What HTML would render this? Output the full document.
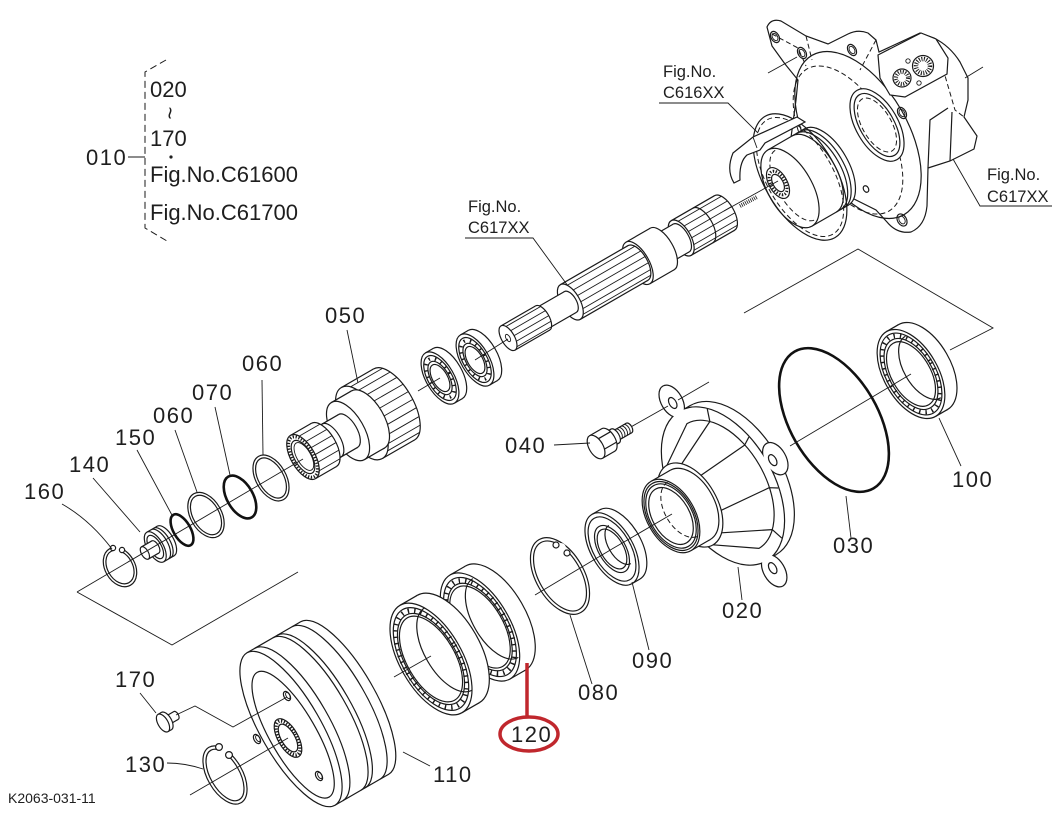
<!DOCTYPE html>
<html><head><meta charset="utf-8"><style>
html,body{margin:0;padding:0;background:#fff;}
svg{display:block}
.s{fill:#fff;stroke:#1a1a1a;stroke-width:1.2}
.n{fill:none;stroke:#1a1a1a;stroke-width:1.2}
.t{fill:none;stroke:#1a1a1a;stroke-width:0.9}
.o{fill:none;stroke:#111;stroke-width:2.6}
.w{fill:#fff;stroke:none}
.d{fill:none;stroke:#1a1a1a;stroke-width:1;stroke-dasharray:5 3}
.r{fill:none;stroke:#1a1a1a;stroke-dasharray:1.4 5}
.g{fill:none;stroke:#1a1a1a;stroke-dasharray:1.3 1.6}
text{font-family:"Liberation Sans",Arial,sans-serif;fill:#1e1e1e}
.L{font-size:22px;letter-spacing:1.5px}
.F{font-size:16.5px}
.G{font-size:22px}
</style></head><body>
<svg width="1062" height="824" viewBox="0 0 1062 824" xmlns="http://www.w3.org/2000/svg">

<!-- legend -->
<path class="n" d="M166,60 L145,72 L145,228 L167,241" style="stroke-dasharray:7 4;stroke-width:1"/>
<line class="t" x1="128" y1="157" x2="145" y2="157"/>
<text class="L" x="86" y="165">010</text>
<text class="G" x="150" y="97">020</text>
<text class="G" x="0" y="0" text-anchor="middle" dominant-baseline="central" transform="translate(170,113) rotate(90)">~</text>
<text class="G" x="150" y="146">170</text>
<circle cx="171" cy="157" r="1.6" fill="#1e1e1e"/>
<text class="G" x="150" y="182">Fig.No.C61600</text>
<text class="G" x="150" y="220">Fig.No.C61700</text>

<!-- brackets -->
<path class="t" d="M77,592 L172,645 L298,572"/>
<path class="t" d="M744,313 L858,249 L993,328 L950,350"/>

<!-- ===== top-right housing C617XX ===== -->
<path class="s" d="M767,27 Q771,18 781,21 L806,36 L828,44 L848,34 Q858,29 868,33 L876,40 L879,52 L920,33 L934,38 Q950,46 960,62 L968,78 L968,100 L964,117 L977,136 L974,149 L950,161 L928,168 L927,206 Q925,226 911,232 Q897,234 887,222 L876,210 L850,197 L800,205 L788,160 L796,100 L798,80 L785,64 L772,46 Z"/>
<path class="d" d="M772,34 L798,48 L806,66 M806,36 L812,60 M934,38 L955,110 L964,117 M876,40 L860,70"/>
<ellipse class="n" transform="translate(858,135) rotate(-30)" rx="50" ry="92"/>
<ellipse class="d" transform="translate(848,140) rotate(-30)" rx="42" ry="82"/>
<path class="n" d="M928,168 L930,120 L948,108 M950,161 L952,112"/>
<path class="s" d="M878,55 L921,33 L936,39 L948,58 L947,74 L905,97 L890,95 L880,78 Z"/>
<circle class="n" cx="902" cy="78" r="9"/>
<circle cx="902" cy="78" r="6" fill="none" stroke="#1a1a1a" stroke-width="4" stroke-dasharray="1 1.4"/>
<circle class="n" cx="923" cy="66" r="10.5"/>
<circle cx="923" cy="66" r="7" fill="none" stroke="#1a1a1a" stroke-width="4.5" stroke-dasharray="1 1.4"/>
<circle class="t" cx="908" cy="61" r="2.2"/>
<circle class="t" cx="919" cy="83" r="2.2"/>
<g transform="translate(877,125) rotate(-30)">
 <ellipse class="s" rx="21" ry="40"/>
 <ellipse class="n" rx="17" ry="35"/>
 <ellipse class="d" rx="14.5" ry="30"/>
</g>
<g class="n">
 <g transform="translate(775,37) rotate(-30)"><ellipse rx="4" ry="6"/><ellipse class="t" rx="2.5" ry="4"/></g>
 <g transform="translate(802,53) rotate(-30)"><ellipse rx="4" ry="6"/><ellipse class="t" rx="2.5" ry="4"/></g>
 <g transform="translate(852,50) rotate(-30)"><ellipse rx="4" ry="6"/><ellipse class="t" rx="2.5" ry="4"/></g>
 <g transform="translate(902,113) rotate(-30)"><ellipse rx="4" ry="6"/><ellipse class="t" rx="2.5" ry="4"/></g>
 <g transform="translate(902,220) rotate(-30)"><ellipse rx="4.5" ry="6.5"/><ellipse class="t" rx="2.8" ry="4.2"/></g>
 <g transform="translate(866,189) rotate(-30)"><ellipse rx="2.5" ry="3.5"/></g>
</g>
<path class="t" d="M965,78 L983,67 M768,73 L797,57"/>

<!-- piston C616XX -->
<g transform="translate(790,188) rotate(-30)">
 <ellipse class="s" cx="42" rx="22" ry="44"/>
 <rect class="w" x="0" y="-44" width="42" height="88"/>
 <path class="n" d="M0,-44H42M0,44H42"/>
 <path class="n" d="M28,-44A22,44 0 0 1 28,44M33,-44A22,44 0 0 1 33,44M37,-44A22,44 0 0 1 37,44"/>
 <ellipse class="s" rx="22" ry="44"/>
 <path class="d" d="M6,-40A18,40 0 0 0 6,40"/>
</g>
<g transform="translate(800,177) rotate(-30)">
 <ellipse class="n" rx="36" ry="70"/>
 <ellipse class="d" rx="33" ry="66"/>
</g>
<g transform="translate(778,183) rotate(-30)">
 <ellipse class="s" rx="9" ry="17"/>
 <ellipse class="g" stroke-width="3" rx="7" ry="13"/>
 <ellipse class="n" rx="5" ry="9.5"/>
</g>
<path class="s" d="M733,153 L753,137 L797,117 L805,122 L765,143 L760,150 L747,155 Q739,162 740,180 L734,183 Q726,170 733,153 Z"/>
<path class="t" d="M753,137 L757,148"/>

<!-- Fig labels -->
<text class="F" x="663" y="77">Fig.No.</text>
<text class="F" x="663" y="98">C616XX</text>
<path class="t" d="M659,103 H728 L758,133"/>
<text class="F" x="987" y="180">Fig.No.</text>
<text class="F" x="987" y="202">C617XX</text>
<path class="t" d="M1052,206 H980 L953,159"/>

<!-- ===== upper row ===== -->
<!-- shaft C617XX -->
<g transform="translate(508,338) rotate(-30)">
 <ellipse class="s" cx="250" rx="9.5" ry="20"/>
 <rect class="w" x="200" y="-20" width="50" height="40"/>
 <path class="n" d="M200,-20H250M200,20H250"/>
 <path class="t" d="M205.7,-16H255.7M208.5,-9H258.5M209.5,-2H259.5M209.2,5H259.2M207.6,12H257.6M205,17H255"/>
 <path class="n" d="M225,-20A9.5,20 0 0 1 225,20"/>
 <ellipse class="s" cx="200" rx="9.5" ry="20"/>
 <ellipse class="s" cx="200" rx="7.5" ry="16"/>
 <rect class="w" x="178" y="-16" width="22" height="32"/>
 <path class="n" d="M178,-16H200M178,16H200"/>
 <ellipse class="s" cx="178" rx="11" ry="24"/>
 <rect class="w" x="150" y="-24" width="28" height="48"/>
 <path class="n" d="M150,-24H178M150,24H178"/>
 <ellipse class="s" cx="150" rx="11" ry="24"/>
 <ellipse class="s" cx="150" rx="9.5" ry="20"/>
 <rect class="w" x="72" y="-20" width="78" height="40"/>
 <path class="n" d="M72,-20H150M72,20H150"/>
 <path class="t" d="M77.7,-16H155.7M80.5,-9H158.5M81.5,-2H159.5M81.2,5H159.2M79.6,12H157.6M77,17H155"/>
 <ellipse class="s" cx="72" rx="9.5" ry="20"/>
 <ellipse class="s" cx="72" rx="6" ry="12"/>
 <rect class="w" x="40" y="-12" width="32" height="24"/>
 <path class="n" d="M40,-12H72M40,12H72"/>
 <ellipse class="s" cx="40" rx="6.5" ry="14"/>
 <rect class="w" x="0" y="-14" width="40" height="28"/>
 <path class="n" d="M0,-14H40M0,14H40"/>
 <path class="t" d="M4,-11H44M6.1,-5H46.1M6.5,1H46.5M5.6,7H45.6M3.3,12H43.3"/>
 <ellipse class="s" rx="6.5" ry="14"/>
 <ellipse class="t" rx="2" ry="4"/>
</g>
<text class="F" x="468" y="212">Fig.No.</text>
<text class="F" x="468" y="233">C617XX</text>
<path class="t" d="M465,238 H533 L568,286"/>
<path class="t" d="M724,211 L778,181"/>
<path d="M740,206 L757,197" stroke="#1a1a1a" stroke-width="4" stroke-dasharray="0.8 1.2" fill="none"/>

<!-- bearings upper -->
<g transform="translate(475,360) rotate(-30)">
 <ellipse class="s" cx="9" rx="14" ry="29"/>
 <rect class="w" x="0" y="-29" width="9" height="58"/>
 <path class="n" d="M0,-29H9M0,29H9"/>
 <ellipse class="s" rx="14" ry="29"/>
 <ellipse class="n" rx="12" ry="25"/>
 <ellipse class="r" stroke-width="3.5" rx="10.5" ry="21.5"/>
 <ellipse class="n" rx="9" ry="18.5"/>
 <ellipse class="n" rx="7.5" ry="15"/>
</g>
<path class="t" d="M475,360 L508,339"/>
<g transform="translate(440,378) rotate(-30)">
 <ellipse class="s" cx="9" rx="14" ry="29"/>
 <rect class="w" x="0" y="-29" width="9" height="58"/>
 <path class="n" d="M0,-29H9M0,29H9"/>
 <ellipse class="s" rx="14" ry="29"/>
 <ellipse class="n" rx="12" ry="25"/>
 <ellipse class="r" stroke-width="3.5" rx="10.5" ry="21.5"/>
 <ellipse class="n" rx="9" ry="18.5"/>
 <ellipse class="n" rx="7.5" ry="15"/>
</g>
<path class="t" d="M418,391 L440,378"/>

<!-- gear 050 -->
<g transform="translate(303,457) rotate(-30)">
 <ellipse class="s" cx="105" rx="19" ry="41"/>
 <rect class="w" x="68" y="-41" width="37" height="82"/>
 <path class="n" d="M68,-41H105M68,41H105"/>
 <ellipse class="s" cx="68" rx="19" ry="41"/>
 <path class="t" d="M76.2,-37H113.2M81,-30H118M84,-22H121M86,-13H123M86.9,-4H123.9M86.9,5H123.9M85.9,14H122.9M83.7,23H120.7M80.4,31H117.4M76.2,37H113.2"/>
 <ellipse class="s" cx="75" rx="16" ry="33"/>
 <rect class="w" x="52" y="-33" width="23" height="66"/>
 <path class="n" d="M52,-33H75M52,33H75"/>
 <ellipse class="s" cx="52" rx="16" ry="33"/>
 <ellipse class="s" cx="52" rx="9" ry="19"/>
 <rect class="w" x="24" y="-19" width="28" height="38"/>
 <path class="n" d="M24,-19H52M24,19H52"/>
 <path class="n" d="M33,-19A9,19 0 0 1 33,19"/>
 <ellipse class="s" cx="24" rx="12" ry="25"/>
 <rect class="w" x="0" y="-25" width="24" height="50"/>
 <path class="n" d="M0,-25H24M0,25H24"/>
 <ellipse class="s" rx="12" ry="25"/>
 <path class="t" d="M7.2,-20H31.2M10.5,-12H34.5M11.8,-4H35.8M11.8,4H35.8M10.5,12H34.5M7.2,20H31.2"/>
 <ellipse class="g" stroke-width="3" rx="10.5" ry="22.5"/>
 <ellipse class="n" rx="8.5" ry="18.5"/>
 <ellipse class="t" cx="1" rx="7" ry="15.5"/>
</g>

<!-- rings -->
<g transform="translate(271,478) rotate(-30)"><ellipse class="n" rx="15" ry="25"/><ellipse class="n" rx="12.5" ry="22"/></g>
<ellipse class="o" transform="translate(240,497) rotate(-30)" rx="13" ry="23.5"/>
<g transform="translate(206,515) rotate(-30)"><ellipse class="n" rx="15.5" ry="24.5"/><ellipse class="n" rx="13" ry="21.5"/></g>
<ellipse class="o" transform="translate(182,530) rotate(-30)" rx="8.5" ry="17.5"/>

<!-- 140 -->
<g transform="translate(157,546) rotate(-30)">
 <ellipse class="s" cx="10" rx="8" ry="17"/>
 <rect class="w" x="-2" y="-17" width="12" height="34"/>
 <path class="n" d="M-2,-17H10M-2,17H10M3,-17A8,17 0 0 1 3,17M6,-17A8,17 0 0 1 6,17"/>
 <ellipse class="s" cx="-2" rx="8" ry="17"/>
 <ellipse class="n" cx="-2" rx="6" ry="13"/>
 <ellipse class="s" cx="-2" rx="3.5" ry="7"/>
 <rect class="w" x="-14" y="-7" width="12" height="14"/>
 <path class="n" d="M-14,-7H-2M-14,7H-2"/>
 <ellipse class="s" cx="-14" rx="3.5" ry="7"/>
</g>

<!-- 160 circlip -->
<g transform="translate(120,567) rotate(-30)"><ellipse class="n" rx="15" ry="21"/><ellipse class="n" rx="12.5" ry="18"/></g>
<circle class="w" cx="117" cy="548" r="4"/>
<circle class="s" cx="113" cy="548" r="2.6"/>
<circle class="s" cx="122" cy="550" r="2.6"/>

<path class="t" d="M77,592 L303,459"/>

<!-- upper labels -->
<text class="L" x="325" y="323">050</text>
<path class="t" d="M347,330 L358,383"/>
<text class="L" x="242" y="371">060</text>
<path class="t" d="M262,380 L263,455"/>
<text class="L" x="192" y="400">070</text>
<path class="t" d="M215,407 L230,475"/>
<text class="L" x="153" y="423">060</text>
<path class="t" d="M175,430 L197,492"/>
<text class="L" x="115" y="445">150</text>
<path class="t" d="M137,450 L173,517"/>
<text class="L" x="69" y="472">140</text>
<path class="t" d="M93,478 L140,532"/>
<text class="L" x="24" y="499">160</text>
<path class="t" d="M62,504 Q90,520 112,549"/>

<!-- ===== lower row ===== -->
<!-- bearing 100 -->
<g transform="translate(911,374) rotate(-30)">
 <ellipse class="s" cx="14" rx="27" ry="49"/>
 <rect class="w" x="0" y="-49" width="14" height="98"/>
 <path class="n" d="M0,-49H14M0,49H14"/>
 <ellipse class="s" rx="27" ry="49"/>
 <ellipse class="n" rx="24.5" ry="45"/>
 <ellipse class="r" stroke-width="4.5" rx="23" ry="42"/>
 <ellipse class="n" rx="21.5" ry="39"/>
 <ellipse class="n" rx="19.5" ry="35.5"/>
 <path class="n" d="M14,-35.5A19.5,35.5 0 0 0 14,35.5"/>
</g>
<!-- O-ring 030 -->
<ellipse class="o" transform="translate(834,420) rotate(-30)" rx="44" ry="79"/>

<!-- housing 020 -->
<g transform="translate(671,516) rotate(-30)">
 <ellipse class="s" cx="72" rx="50" ry="86"/>
 <rect class="w" x="60" y="-86" width="12" height="172"/>
 <path class="n" d="M60,-86H72M60,86H72"/>
 <g fill="none" stroke="#1a1a1a" stroke-width="2.4">
  <ellipse cx="58" cy="-99" rx="10" ry="17"/>
  <ellipse cx="119" cy="2.5" rx="10" ry="17"/>
  <ellipse cx="62" cy="99" rx="10" ry="17"/>
  <ellipse cx="60" rx="50" ry="86"/>
 </g>
 <g fill="#fff">
  <ellipse cx="58" cy="-99" rx="10" ry="17"/>
  <ellipse cx="119" cy="2.5" rx="10" ry="17"/>
  <ellipse cx="62" cy="99" rx="10" ry="17"/>
  <ellipse cx="60" rx="50" ry="86"/>
 </g>
 <ellipse class="n" cx="58" cy="-97" rx="3.5" ry="6"/>
 <ellipse class="n" cx="116" cy="2.5" rx="3.5" ry="6"/>
 <ellipse class="n" cx="62" cy="96" rx="3.5" ry="6"/>
 <path class="s" d="M22,-46 L60,-72 A42,72 0 0 1 60,72 L22,46 Z"/>
 <path class="n" d="M80.9,-62.4L84.9,-74.5M99.2,-24.6L106.9,-29.4M99.2,24.6L106.9,29.4M80.9,62.4L84.9,74.5M35.3,-39.8L80.9,-62.4M35.3,39.8L80.9,62.4M44,-20L99.2,-24.6M44,20L99.2,24.6"/>
 <ellipse class="s" cx="22" rx="27" ry="46"/>
 <ellipse class="s" cx="22" rx="24" ry="40"/>
 <rect class="w" x="0" y="-40" width="22" height="80"/>
 <path class="n" d="M0,-40H22M0,40H22"/>
 <ellipse class="s" rx="24" ry="40"/>
 <ellipse class="n" rx="22.5" ry="37.5"/>
 <ellipse class="n" rx="21" ry="35"/>
 <ellipse class="n" rx="18.5" ry="31"/>
 <path class="d" d="M14,-31A18.5,31 0 0 0 14,31"/>
</g>
<path class="t" d="M629,428 L668,406 M678,400 L709,382"/>

<!-- bolt 040 -->
<g transform="translate(603,443) rotate(-30)">
 <ellipse class="s" cx="30" rx="3" ry="5.5"/>
 <rect class="w" x="14" y="-5.5" width="16" height="11"/>
 <path class="n" d="M14,-5.5H30M14,5.5H30"/>
 <path class="t" d="M18,-5.5A3,5.5 0 0 1 18,5.5M21,-5.5A3,5.5 0 0 1 21,5.5M24,-5.5A3,5.5 0 0 1 24,5.5M27,-5.5A3,5.5 0 0 1 27,5.5"/>
 <ellipse class="s" cx="14" rx="4" ry="8"/>
 <rect class="w" x="6" y="-8" width="8" height="16"/>
 <path class="n" d="M6,-8H14M6,8H14"/>
 <ellipse class="s" cx="6" rx="7" ry="13"/>
 <rect class="w" x="-8" y="-13" width="14" height="26"/>
 <path class="n" d="M-8,-13H6M-8,13H6M-1.8,-6H12.2M-1.8,6H12.2"/>
 <ellipse class="s" cx="-8" rx="7" ry="13"/>
</g>

<!-- seal 090 -->
<g transform="translate(612,549) rotate(-30)">
 <ellipse class="s" cx="9" rx="21" ry="40"/>
 <rect class="w" x="0" y="-40" width="9" height="80"/>
 <path class="n" d="M0,-40H9M0,40H9"/>
 <ellipse class="s" rx="21" ry="40"/>
 <ellipse class="n" rx="18.5" ry="35.5"/>
 <ellipse class="n" rx="13.5" ry="26"/>
 <ellipse class="n" rx="11.5" ry="22"/>
 <path class="n" d="M9,-22A11.5,22 0 0 0 9,22"/>
</g>
<path class="t" d="M612,549 L672,514"/>

<!-- circlip 080 -->
<g transform="translate(560,576) rotate(-30)"><ellipse class="n" rx="24" ry="42"/><ellipse class="n" rx="21" ry="38.5"/></g>
<circle class="w" cx="561" cy="548" r="5"/>
<circle class="s" cx="556" cy="545" r="3"/>
<circle class="s" cx="567" cy="553" r="3"/>

<!-- bearing 120 -->
<g transform="translate(480,627) rotate(-30)">
 <ellipse class="s" cx="18" rx="30" ry="60"/>
 <rect class="w" x="0" y="-60" width="18" height="120"/>
 <path class="n" d="M0,-60H18M0,60H18"/>
 <ellipse class="s" rx="30" ry="60"/>
 <ellipse class="n" rx="27.5" ry="55"/>
 <ellipse class="r" stroke-width="5" rx="26" ry="51.5"/>
 <ellipse class="n" rx="24.5" ry="48.5"/>
 <ellipse class="n" rx="23" ry="45.5"/>
 <path class="n" d="M18,-45.5A23,45.5 0 0 0 18,45.5"/>
</g>
<path class="t" d="M535,595 L612,549"/>

<!-- bearing A -->
<g transform="translate(431,659) rotate(-30)">
 <ellipse class="s" cx="20" rx="31" ry="62"/>
 <rect class="w" x="0" y="-62" width="20" height="124"/>
 <path class="n" d="M0,-62H20M0,62H20"/>
 <ellipse class="s" rx="31" ry="62"/>
 <ellipse class="n" rx="28.5" ry="57"/>
 <ellipse class="r" stroke-width="5" rx="27" ry="53.5"/>
 <ellipse class="n" rx="25.5" ry="50.5"/>
 <ellipse class="n" rx="24" ry="47.5"/>
 <path class="n" d="M20,-47.5A24,47.5 0 0 0 20,47.5"/>
</g>
<path class="t" d="M394,677 L431,656"/>

<!-- drum 110 -->
<g transform="translate(291,729) rotate(-30)">
 <ellipse class="s" cx="62" rx="30" ry="88"/>
 <rect class="w" x="0" y="-88" width="62" height="176"/>
 <path class="n" d="M0,-88H62M0,88H62"/>
 <path class="n" d="M9,-88A30,88 0 0 1 9,88M30,-88A30,88 0 0 1 30,88M35,-88A30,88 0 0 1 35,88M52,-88A30,88 0 0 1 52,88"/>
 <ellipse class="s" rx="30" ry="88"/>
 <ellipse class="n" cx="-1" cy="6" rx="23" ry="72"/>
</g>
<g transform="translate(288,738) rotate(-30)">
 <ellipse class="s" rx="10" ry="21.5"/>
 <ellipse class="g" stroke-width="3.5" rx="8.5" ry="19"/>
 <ellipse class="n" rx="6.8" ry="15.5"/>
</g>
<g transform="translate(287,696) rotate(-30)"><ellipse class="n" rx="3" ry="5"/><ellipse class="t" cx="1" rx="1.8" ry="3.4"/></g>
<g transform="translate(257,739) rotate(-30)"><ellipse class="n" rx="3" ry="5"/><ellipse class="t" cx="1" rx="1.8" ry="3.4"/></g>
<g transform="translate(319,776) rotate(-30)"><ellipse class="n" rx="3" ry="5"/><ellipse class="t" cx="1" rx="1.8" ry="3.4"/></g>

<!-- circlip 130 -->
<g transform="translate(225,775) rotate(-30)"><ellipse class="n" rx="17.5" ry="32"/><ellipse class="n" rx="14.5" ry="28.5"/></g>
<circle class="w" cx="224" cy="750" r="5"/>
<circle class="s" cx="219" cy="747" r="3.4"/>
<circle class="s" cx="229" cy="755" r="3.4"/>
<path class="t" d="M190,795 L288,738"/>

<!-- pin 170 -->
<g transform="translate(163,723) rotate(-30)">
 <ellipse class="s" cx="15" rx="2.5" ry="4.5"/>
 <rect class="w" x="4" y="-4.5" width="11" height="9"/>
 <path class="n" d="M4,-4.5H15M4,4.5H15"/>
 <ellipse class="s" cx="4" rx="5" ry="10"/>
 <rect class="w" x="0" y="-10" width="4" height="20"/>
 <path class="n" d="M0,-10H4M0,10H4"/>
 <ellipse class="s" rx="5" ry="10"/>
</g>

<path class="t" d="M790,446 L911,374"/>

<!-- lower labels -->
<text class="L" x="505" y="453">040</text>
<path class="t" d="M554,445 L590,443"/>
<text class="L" x="722" y="618">020</text>
<path class="t" d="M742,600 L738,567"/>
<text class="L" x="833" y="553">030</text>
<path class="t" d="M851,538 L846,496"/>
<text class="L" x="952" y="487">100</text>
<path class="t" d="M961,466 L939,418"/>
<text class="L" x="632" y="668">090</text>
<path class="t" d="M649,650 L632,582"/>
<text class="L" x="578" y="700">080</text>
<path class="t" d="M592,684 L570,615"/>
<text class="L" x="115" y="687">170</text>
<path class="t" d="M140,693 L156,713"/>
<path class="t" d="M176,715 L195,706 L233,727 L287,697"/>
<text class="L" x="125" y="772">130</text>
<path class="t" d="M167,763 Q185,763 203,769"/>
<text class="L" x="433" y="782">110</text>
<path class="t" d="M430,766 L403,752"/>

<!-- red marker 120 -->
<line x1="527" y1="663" x2="527" y2="717" stroke="#c0272d" stroke-width="3.5"/>
<ellipse cx="529" cy="734" rx="29" ry="17" fill="none" stroke="#c0272d" stroke-width="3.5"/>
<text class="L" x="511" y="742">120</text>

<text x="8" y="803" style="font-size:14px">K2063-031-11</text>
</svg>
</body></html>
